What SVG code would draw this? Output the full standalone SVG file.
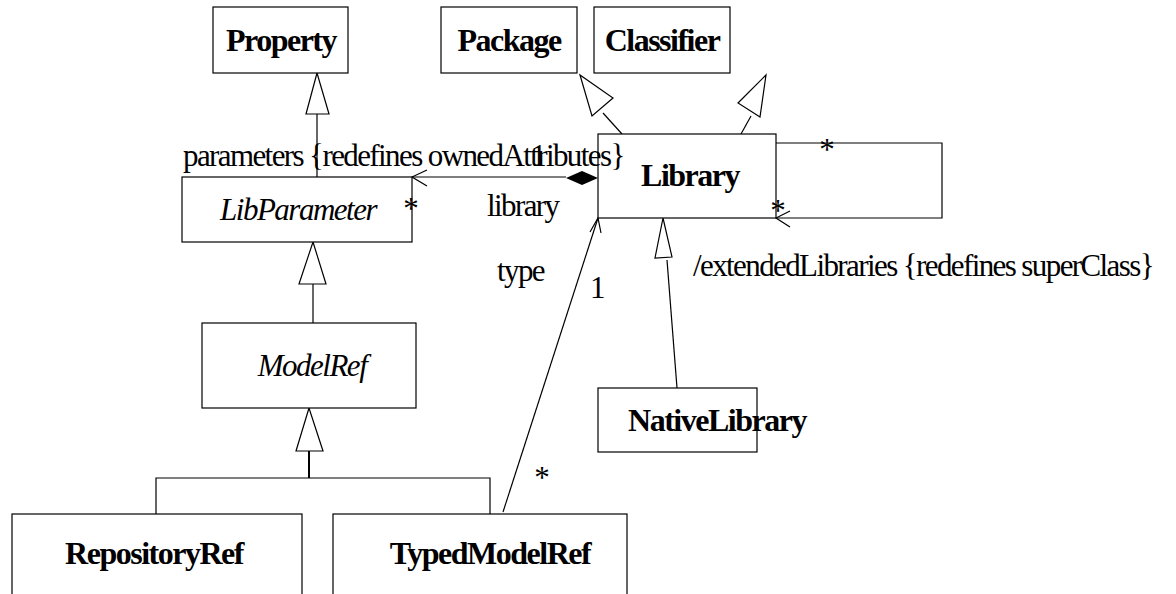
<svg xmlns="http://www.w3.org/2000/svg" width="1176" height="594" viewBox="0 0 1176 594">
<style>
.box{fill:#fff;stroke:#000;stroke-width:1.2}
.cn{fill:none;stroke:#000;stroke-width:1.2}
.tri{fill:#fff;stroke:#000;stroke-width:1.2}
.b{font-family:"Liberation Serif",serif;font-weight:bold;font-size:32px;text-anchor:middle;letter-spacing:-1.5px}
.i{font-family:"Liberation Serif",serif;font-style:italic;font-size:31px;text-anchor:middle;letter-spacing:-1.5px}
.t{font-family:"Liberation Serif",serif;font-size:31px;letter-spacing:-1.6px}
.s{font-family:"Liberation Serif",serif;font-size:31px;text-anchor:middle}
</style>
<rect width="1176" height="594" fill="#fff"/>
<g id="connectors">
<polyline class="cn" points="317,177 317,114"/>
<polygon class="tri" points="317,73 306,114 329,114"/>
<polyline class="cn" points="313,323 313,284"/>
<polygon class="tri" points="313,242 299,284 326,284"/>
<polygon class="tri" points="309,408 296,451 323,451"/>
<polyline class="cn" points="309,451 309,478" style="stroke-width:2"/>
<polyline class="cn" points="156,514 156,478 490,478 490,514"/>
<polyline class="cn" points="412,177 566,177"/>
<polyline class="cn" points="427,170 412,177 427,186"/>
<polygon points="566,178 582,171 598,178 582,185" fill="#000"/>
<polyline class="cn" points="776,143 942,143 942,218 776,218"/>
<polyline class="cn" points="790,211 776,218 790,227"/>
<polyline class="cn" points="503,512 598,218"/>
<polyline class="cn" points="590,232 598,218 601,233"/>
<polyline class="cn" points="677,388 667,260"/>
<polygon class="tri" points="663,218 655,258 672,257"/>
<polyline class="cn" points="622,134 603,113"/>
<polygon class="tri" points="580,75 592,116 613,98"/>
<polyline class="cn" points="741,134 751,116"/>
<polygon class="tri" points="766,75 738,103 760,117"/>
</g>
<g id="Property"><rect class="box" x="213" y="7" width="135" height="66"/><text class="b" x="281" y="51">Property</text></g>
<g id="Package"><rect class="box" x="441" y="7" width="136" height="66"/><text class="b" x="509" y="51">Package</text></g>
<g id="Classifier"><rect class="box" x="594" y="7" width="136" height="66"/><text class="b" x="662" y="51">Classifier</text></g>
<g id="Library"><rect class="box" x="598" y="134" width="178" height="84"/><text class="b" x="690" y="186">Library</text></g>
<g id="LibParameter"><rect class="box" x="182" y="177" width="230" height="65"/><text class="i" x="298" y="220">LibParameter</text></g>
<g id="ModelRef"><rect class="box" x="202" y="323" width="214" height="85"/><text class="i" x="312" y="376">ModelRef</text></g>
<g id="NativeLibrary"><rect class="box" x="598" y="388" width="159" height="64"/><text class="b" x="717" y="431">NativeLibrary</text></g>
<g id="RepositoryRef"><rect class="box" x="12" y="514" width="290" height="100"/><text class="b" x="154" y="564">RepositoryRef</text></g>
<g id="TypedModelRef"><rect class="box" x="333" y="514" width="294" height="100"/><text class="b" x="490" y="564">TypedModelRef</text></g>
<g id="labels">
<text class="t" x="183" y="166">parameters {redefines ownedAttributes}</text>
<text class="t" x="531" y="166">1</text>
<text class="s" x="411" y="219">*</text>
<text class="t" x="487" y="216">library</text>
<text class="t" x="497" y="281">type</text>
<text class="t" x="590" y="298">1</text>
<text class="s" x="542" y="488">*</text>
<text class="s" x="827" y="160">*</text>
<text class="s" x="778" y="221">*</text>
<text class="t" x="693" y="276">/extendedLibraries {redefines superClass}</text>
</g>
</svg>
